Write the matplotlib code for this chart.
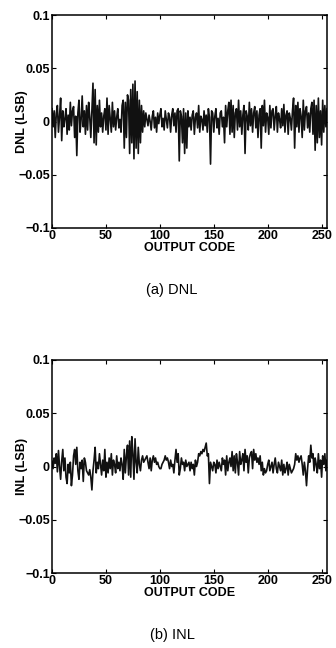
import numpy as np
import matplotlib
matplotlib.use("Agg")
import matplotlib.pyplot as plt

plt.rcParams["font.family"] = ["Liberation Sans", "DejaVu Sans"]

# values (LSB), one per output code 0..255
dnl = [
    0.012, -0.005, 0.010, -0.015, 0.008, 0.015, -0.010, 0.005, 0.022, -0.018, 0.010, -0.005, 0.003, 0.012, -0.012, 0.006,
    -0.008, 0.018, -0.004, 0.010, 0.014, -0.015, 0.005, -0.032, 0.008, 0.020, -0.010, 0.002, 0.024, -0.005, 0.010, -0.012,
    0.015, -0.008, 0.018, 0.004, -0.015, 0.010, 0.036, -0.020, 0.030, -0.022, 0.015, -0.010, 0.020, -0.005, 0.008, -0.010,
    0.005, 0.012, -0.008, 0.022, -0.012, 0.015, 0.003, -0.010, 0.018, -0.005, 0.010, -0.008, 0.004, 0.012, -0.006, 0.002,
    -0.010, 0.015, 0.020, -0.025, 0.018, -0.015, 0.025, 0.020, -0.030, 0.030, -0.020, 0.035, -0.035, 0.038, -0.025, 0.028,
    -0.030, 0.020, -0.020, 0.015, -0.010, 0.010, -0.005, 0.008, 0.002, -0.004, 0.006, 0.000, -0.008, 0.005, 0.010, -0.006,
    0.004, -0.010, 0.008, -0.002, 0.006, 0.012, -0.005, 0.003, -0.008, 0.010, 0.002, -0.006, 0.008, 0.004, -0.010, 0.006,
    0.012, -0.004, 0.008, -0.010, 0.010, 0.012, -0.037, 0.010, 0.005, -0.020, 0.012, -0.030, 0.008, -0.025, 0.010, -0.005,
    0.004, -0.008, 0.006, 0.010, -0.012, 0.004, 0.008, -0.006, 0.015, -0.010, 0.005, 0.002, -0.008, 0.010, -0.004, 0.006,
    -0.010, 0.012, 0.004, -0.040, 0.010, 0.008, -0.010, 0.005, 0.012, -0.006, 0.003, -0.012, 0.008, 0.010, -0.005, 0.004,
    -0.020, 0.015, -0.005, 0.010, 0.018, -0.012, 0.020, -0.010, 0.015, -0.015, 0.008, 0.012, -0.008, 0.020, -0.005, 0.010,
    -0.012, 0.006, 0.015, -0.030, 0.010, 0.005, -0.008, 0.018, -0.004, 0.012, -0.010, 0.008, 0.014, -0.006, 0.010, -0.015,
    0.006, 0.012, -0.025, 0.015, -0.004, 0.020, -0.010, 0.008, 0.004, -0.012, 0.015, -0.006, 0.010, 0.012, -0.008, 0.005,
    0.014, -0.010, 0.008, 0.002, -0.006, 0.012, -0.004, 0.016, -0.010, 0.006, 0.010, -0.012, 0.008, 0.003, -0.008, 0.010,
    0.022, -0.025, 0.015, -0.005, 0.018, -0.010, 0.012, 0.005, -0.015, 0.020, -0.008, 0.010, 0.014, -0.006, 0.008, -0.010,
    0.012, 0.018, -0.012, 0.020, -0.027, 0.015, -0.020, 0.022, -0.015, 0.010, -0.022, 0.020, -0.010, 0.015, -0.005, 0.012,
]

inl = [
    0.005, -0.002, 0.008, 0.003, 0.012, -0.005, 0.015, 0.000, -0.012, 0.005, 0.016, -0.004, 0.008, -0.010, -0.016, 0.002,
    -0.006, 0.004, -0.018, -0.008, 0.010, 0.016, 0.002, 0.018, -0.004, -0.012, 0.004, -0.002, 0.006, -0.014, 0.008, 0.004,
    -0.004, -0.006, -0.008, -0.003, -0.010, -0.022, -0.004, 0.006, 0.018, -0.006, 0.004, -0.002, 0.012, 0.002, -0.008, 0.006,
    -0.004, 0.016, -0.010, 0.004, -0.006, 0.008, -0.002, 0.012, -0.008, 0.006, 0.002, -0.006, 0.010, -0.002, 0.004, -0.004,
    0.008, 0.002, -0.012, 0.016, -0.006, 0.010, 0.020, -0.008, 0.024, -0.010, 0.028, 0.012, -0.012, 0.026, 0.004, -0.006,
    0.018, 0.002, -0.004, 0.006, 0.010, 0.004, 0.006, 0.008, 0.010, 0.004, -0.002, 0.008, -0.004, 0.006, 0.010, 0.004,
    0.008, 0.002, 0.004, 0.000, -0.002, -0.002, 0.002, 0.004, 0.006, 0.010, 0.006, 0.008, 0.004, -0.002, 0.006, 0.000,
    0.002, -0.006, 0.006, 0.016, 0.004, 0.012, -0.008, -0.002, 0.008, 0.002, 0.004, -0.004, 0.006, 0.000, 0.002, 0.004,
    -0.004, 0.004, -0.002, 0.002, -0.008, 0.006, 0.000, 0.004, 0.012, 0.010, 0.014, 0.012, 0.016, 0.014, 0.018, 0.022,
    0.010, 0.012, -0.016, 0.004, 0.000, -0.004, 0.004, 0.002, -0.006, 0.006, -0.002, 0.004, 0.000, -0.004, 0.008, 0.002,
    0.006, -0.008, 0.010, -0.004, 0.004, 0.008, 0.000, 0.014, -0.004, 0.010, -0.006, 0.012, 0.004, -0.008, 0.014, 0.002,
    0.006, 0.012, -0.004, 0.016, 0.004, 0.010, -0.006, 0.008, 0.012, 0.014, -0.002, 0.016, 0.006, 0.012, 0.004, 0.008,
    0.002, 0.010, -0.004, 0.004, -0.008, -0.002, -0.006, -0.004, 0.002, 0.006, -0.004, 0.000, 0.004, -0.006, 0.002, 0.008,
    -0.002, -0.006, 0.004, 0.000, -0.004, 0.006, -0.008, 0.002, -0.006, -0.002, 0.004, -0.008, 0.002, -0.002, -0.006, -0.004,
    -0.002, 0.002, 0.012, 0.006, 0.010, 0.004, 0.008, 0.010, 0.002, -0.008, 0.004, -0.004, -0.018, -0.002, 0.010, 0.004,
    0.020, 0.008, 0.012, -0.004, 0.008, 0.002, -0.006, 0.012, -0.002, 0.006, -0.010, 0.010, 0.002, 0.012, -0.004, 0.006,
]

codes = np.arange(len(dnl))
xticks = [0, 50, 100, 150, 200, 250]
yticks = [-0.1, -0.05, 0, 0.05, 0.1]
yticklabels = ["\u22120.1", "\u22120.05", "0", "0.05", "0.1"]

W, H = 336, 648
fig = plt.figure(figsize=(W / 100, H / 100), dpi=100)


def make_panel(top_px, values, ylabel, caption):
    left, right, bottom = 52, 327, top_px + 213
    ax = fig.add_axes([left / W, 1 - bottom / H, (right - left) / W, 213 / H])
    ax.plot(codes, values, color="#111111", lw=1.2)
    ax.set_xlim(0, 255)
    ax.set_ylim(-0.1, 0.1)
    ax.set_xticks(xticks)
    ax.set_yticks(yticks)
    ax.set_yticklabels(yticklabels)
    ax.tick_params(direction="in", length=3, width=0.8, labelsize=9, pad=1.5,
                   top=True, right=True)
    for lab in ax.get_xticklabels() + ax.get_yticklabels():
        lab.set_fontweight("bold")
    for s in ax.spines.values():
        s.set_linewidth(1.1)
    ax.set_ylabel(ylabel, fontsize=9, fontweight="bold")
    ax.yaxis.set_label_coords(-24 / 275, 0.5)
    ax.set_xlabel("OUTPUT CODE", fontsize=9, fontweight="bold", labelpad=0)
    fig.text(172 / W, 1 - (bottom + 62) / H, caption, ha="center", va="center",
             fontsize=10.5)
    return ax


make_panel(15, dnl, "DNL (LSB)", "(a) DNL")
make_panel(360, inl, "INL (LSB)", "(b) INL")

fig.savefig("out.png", dpi=100)
